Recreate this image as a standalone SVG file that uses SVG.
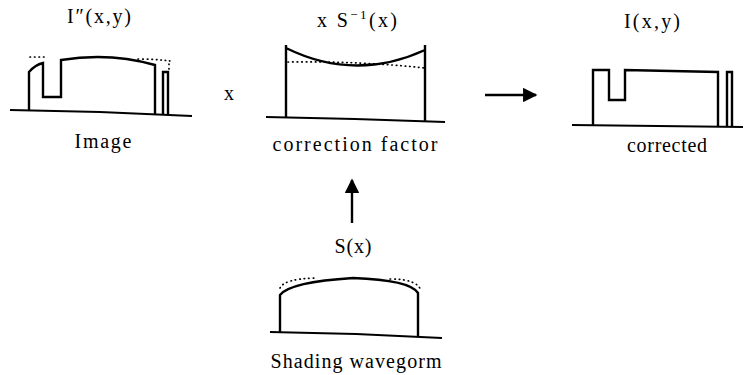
<svg xmlns="http://www.w3.org/2000/svg" width="745" height="375" viewBox="0 0 745 375">
<style>
.w{fill:none;stroke:#000;stroke-width:2.4;stroke-linejoin:miter;stroke-linecap:butt}
.b{fill:none;stroke:#000;stroke-width:2.2}
.d{fill:none;stroke:#000;stroke-width:1.7;stroke-dasharray:0.5 4;stroke-linecap:round}
.t{font-family:"Liberation Serif","Times New Roman",serif;font-size:20px;fill:#000}
</style>
<defs>
<marker id="ah" viewBox="0 0 10 10" refX="9" refY="5" markerWidth="6.5" markerHeight="6" markerUnits="strokeWidth" orient="auto">
<path d="M0,0 L10,5 L0,10 Z" fill="#000"/>
</marker>
</defs>
<rect width="745" height="375" fill="#fff"/>
<g id="image">
<text class="t" x="99" y="23" text-anchor="middle" textLength="64">I″(x,y)</text>
<path class="b" d="M10,110 L100,112 L192,116"/>
<path class="w" d="M29,111 V72 Q35,65 43,63 V97 H61 V60 Q110,52 155,65 V114"/>
<path class="w" d="M163,115 V72 H168 V115"/>
<path class="d" d="M30,57 H44 M138,59 Q155,59 170,61 M169,64 V72"/>
<text class="t" x="103" y="148" text-anchor="middle" textLength="57">Image</text>
</g>
<g id="times">
<text class="t" x="229" y="100" text-anchor="middle">x</text>
</g>
<g id="correction">
<text class="t" x="357" y="27" text-anchor="middle" textLength="80">x S<tspan font-size="13" dy="-8">−1</tspan><tspan dy="8">(x)</tspan></text>
<path class="b" d="M266,117 L355,119 L445,122"/>
<path class="w" d="M286,118 V45 M286,48 Q355,82 425,50 M425,45 V121"/>
<path class="d" d="M288,62 Q360,61 425,68"/>
<text class="t" x="355" y="151" text-anchor="middle" textLength="165">correction factor</text>
</g>
<g id="corrected">
<text class="t" x="652" y="28" text-anchor="middle" textLength="56">I(x,y)</text>
<path class="b" d="M572,125 L743,127"/>
<path class="w" d="M593,126 V70 H609 V100 H625 V70 L718,72 V127"/>
<path class="w" d="M727,127 V72 H732 V127"/>
<text class="t" x="667" y="152" text-anchor="middle" textLength="80">corrected</text>
</g>
<g id="shading">
<text class="t" x="353" y="253" text-anchor="middle" textLength="37">S(x)</text>
<path class="b" d="M270,332 L356,334 L442,338"/>
<path class="w" d="M280,333 V295 Q290,282 353,278 Q410,280 418,293 V337"/>
<path class="d" d="M280,288 Q284,279 315,278 M390,279 Q418,279 421,291"/>
<text class="t" x="356" y="368" text-anchor="middle" textLength="171">Shading wavegorm</text>
</g>
<g id="connectors">
<line x1="352" y1="223" x2="352" y2="180" stroke="#000" stroke-width="2.4" marker-end="url(#ah)"/>
<line x1="485" y1="95" x2="536" y2="95" stroke="#000" stroke-width="2.4" marker-end="url(#ah)"/>
</g>
</svg>
